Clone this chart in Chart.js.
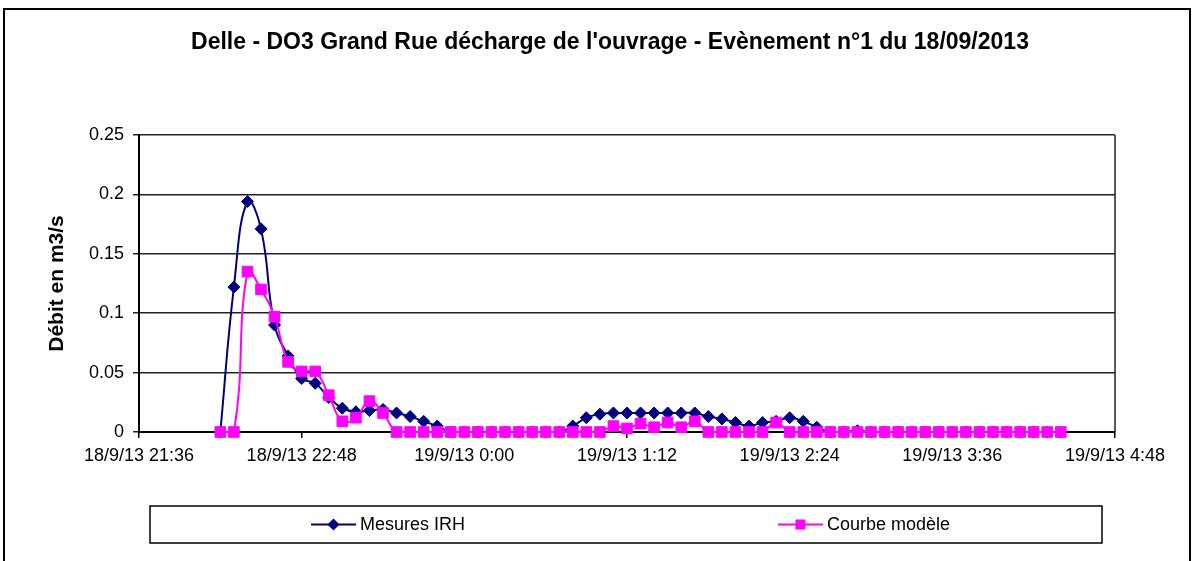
<!DOCTYPE html>
<html>
<head>
<meta charset="utf-8">
<title>Delle - DO3 Grand Rue</title>
<script src="https://cdn.jsdelivr.net/npm/chart.js"></script>
<style>
  body { margin: 0; background: #fff; }
  #wrap { position: relative; width: 1194px; height: 561px; }
</style>
</head>
<body>
<div id="wrap"><canvas id="chart" width="1194" height="561"></canvas></div>
<script>
// sampling times (every 6 min, 18/9/13 22:12 -> 19/9/13 4:24)
const times = [
  '22:12','22:18','22:24','22:30','22:36','22:42','22:48','22:54',
  '23:00','23:06','23:12','23:18','23:24','23:30','23:36','23:42','23:48','23:54',
  '0:00','0:06','0:12','0:18','0:24','0:30','0:36','0:42','0:48','0:54',
  '1:00','1:06','1:12','1:18','1:24','1:30','1:36','1:42','1:48','1:54',
  '2:00','2:06','2:12','2:18','2:24','2:30','2:36','2:42','2:48','2:54',
  '3:00','3:06','3:12','3:18','3:24','3:30','3:36','3:42','3:48','3:54',
  '4:00','4:06','4:12','4:18','4:24'
];

const mesuresIRH = [
  0, 0.122, 0.194, 0.171, 0.090, 0.064, 0.045, 0.041, 0.029, 0.020,
  0.017, 0.018, 0.019, 0.016, 0.013, 0.009, 0.005, 0, 0, 0,
  0, 0, 0, 0, 0, 0, 0.005, 0.012, 0.015, 0.016,
  0.016, 0.016, 0.016, 0.016, 0.016, 0.016, 0.013, 0.011, 0.008, 0.005,
  0.008, 0.009, 0.012, 0.009, 0.004, 0, 0, 0.001, 0, 0,
  0, 0, 0, 0, 0, 0, 0, 0, 0, 0,
  0, 0, 0
];

const courbeModele = [
  0, 0, 0.135, 0.120, 0.097, 0.059, 0.051, 0.051, 0.031, 0.009,
  0.012, 0.026, 0.016, 0, 0, 0, 0, 0, 0, 0,
  0, 0, 0, 0, 0, 0, 0, 0, 0, 0.005,
  0.003, 0.007, 0.004, 0.008, 0.004, 0.009, 0, 0, 0, 0,
  0, 0.008, 0, 0, 0, 0, 0, 0, 0, 0,
  0, 0, 0, 0, 0, 0, 0, 0, 0, 0,
  0, 0, 0
];

const xTickLabels = ['18/9/13 21:36', '18/9/13 22:48', '19/9/13 0:00', '19/9/13 1:12',
                     '19/9/13 2:24', '19/9/13 3:36', '19/9/13 4:48'];
const yTickLabels = ['0', '0.05', '0.1', '0.15', '0.2', '0.25'];

const chartTitle = "Delle - DO3 Grand Rue décharge de l'ouvrage - Evènement n°1 du 18/09/2013";
const seriesNames = ['Mesures IRH', 'Courbe modèle'];

// minutes since 18/9/13 21:36
function toMinutes(t) {
  const [h, m] = t.split(':').map(Number);
  const hh = h < 12 ? h + 24 : h;
  return hh * 60 + m - (21 * 60 + 36);
}

function toPoints(values) {
  return values.map((v, i) => ({ x: toMinutes(times[i]), y: v }));
}

const FONT = '"Liberation Sans", Arial, sans-serif';
Chart.defaults.font.family = FONT;
Chart.defaults.color = '#000';

// frame, title and legend box drawn like the Excel original
const decorPlugin = {
  id: 'decor',
  afterDraw(chart) {
    const ctx = chart.ctx;
    const area = chart.chartArea;
    ctx.save();

    // outer frame
    ctx.strokeStyle = '#000';
    ctx.lineWidth = 2;
    ctx.beginPath();
    ctx.moveTo(4, 561);
    ctx.lineTo(4, 9);
    ctx.lineTo(1190, 9);
    ctx.lineTo(1190, 561);
    ctx.stroke();

    // plot area right edge
    ctx.lineWidth = 1.5;
    ctx.strokeStyle = '#222';
    ctx.beginPath();
    ctx.moveTo(area.right, area.top);
    ctx.lineTo(area.right, area.bottom);
    ctx.stroke();

    // title
    ctx.fillStyle = '#000';
    ctx.font = 'bold 23px ' + FONT;
    ctx.textAlign = 'center';
    ctx.textBaseline = 'middle';
    ctx.fillText(chartTitle, 610, 43);

    // legend
    const box = { left: 150, top: 506, right: 1102, bottom: 543 };
    ctx.lineWidth = 1.5;
    ctx.strokeStyle = '#000';
    ctx.strokeRect(box.left, box.top, box.right - box.left, box.bottom - box.top);
    ctx.font = '18px ' + FONT;
    ctx.textAlign = 'left';
    const midY = (box.top + box.bottom) / 2;
    const half = (box.right - box.left) / 2;
    chart.data.datasets.forEach((ds, i) => {
      const textW = ctx.measureText(ds.label).width;
      const w = 45 + 4 + textW;
      const start = box.left + half * i + half / 2 - w / 2;
      ctx.strokeStyle = ds.borderColor;
      ctx.lineWidth = 2;
      ctx.beginPath();
      ctx.moveTo(start, midY);
      ctx.lineTo(start + 45, midY);
      ctx.stroke();
      const cx = start + 22.5;
      ctx.fillStyle = ds.pointBackgroundColor;
      ctx.beginPath();
      if (ds.pointStyle === 'rectRot') {
        const r = 6;
        ctx.moveTo(cx, midY - r);
        ctx.lineTo(cx + r, midY);
        ctx.lineTo(cx, midY + r);
        ctx.lineTo(cx - r, midY);
        ctx.closePath();
      } else {
        ctx.rect(cx - 5, midY - 5, 10, 10);
      }
      ctx.fill();
      ctx.fillStyle = '#000';
      ctx.textBaseline = 'middle';
      ctx.fillText(ds.label, start + 49, midY + 1);
    });
    ctx.restore();
  }
};

new Chart(document.getElementById('chart'), {
  type: 'line',
  data: {
    datasets: [
      {
        label: seriesNames[0],
        data: toPoints(mesuresIRH),
        borderColor: '#000080',
        backgroundColor: '#000080',
        pointBackgroundColor: '#000080',
        pointBorderColor: '#000080',
        pointStyle: 'rectRot',
        pointRadius: 6,
        pointBorderWidth: 1,
        borderWidth: 2,
        tension: 0.45,
        clip: false,
        order: 1
      },
      {
        label: seriesNames[1],
        data: toPoints(courbeModele),
        borderColor: '#ff00ff',
        backgroundColor: '#ff00ff',
        pointBackgroundColor: '#ff00ff',
        pointBorderColor: '#ff00ff',
        pointStyle: 'rect',
        pointRadius: 7.5,
        pointBorderWidth: 1,
        borderWidth: 2,
        tension: 0.45,
        clip: false,
        order: 0
      }
    ]
  },
  options: {
    responsive: false,
    animation: false,
    layout: { padding: { left: 0, top: 135, right: 79, bottom: 89 } },
    plugins: {
      legend: { display: false },
      title: { display: false },
      tooltip: { enabled: false }
    },
    scales: {
      x: {
        type: 'linear',
        min: 0,
        max: 432,
        afterFit: s => { s.height = 40; },
        afterBuildTicks: s => { s.ticks = xTickLabels.map((_, i) => ({ value: i * 72 })); },
        ticks: {
          autoSkip: false,
          maxRotation: 0,
          padding: 7,
          font: { size: 18 },
          callback: (v, i) => xTickLabels[i]
        },
        grid: { drawOnChartArea: false, drawTicks: true, tickLength: 6, color: '#000', lineWidth: 1.5 },
        border: { color: '#000', width: 2 }
      },
      y: {
        min: 0,
        max: 0.25,
        afterFit: s => { s.width = 139; },
        afterBuildTicks: s => { s.ticks = yTickLabels.map(l => ({ value: Number(l) })); },
        ticks: {
          padding: 9,
          font: { size: 18 },
          callback: (v, i) => yTickLabels[i]
        },
        grid: { color: '#222', lineWidth: 1.5, tickLength: 6 },
        border: { color: '#000', width: 2 },
        title: {
          display: true,
          text: 'Débit en m3/s',
          font: { size: 21, weight: 'bold' },
          padding: { top: 45, bottom: 0 }
        }
      }
    }
  },
  plugins: [decorPlugin]
});
</script>
</body>
</html>
